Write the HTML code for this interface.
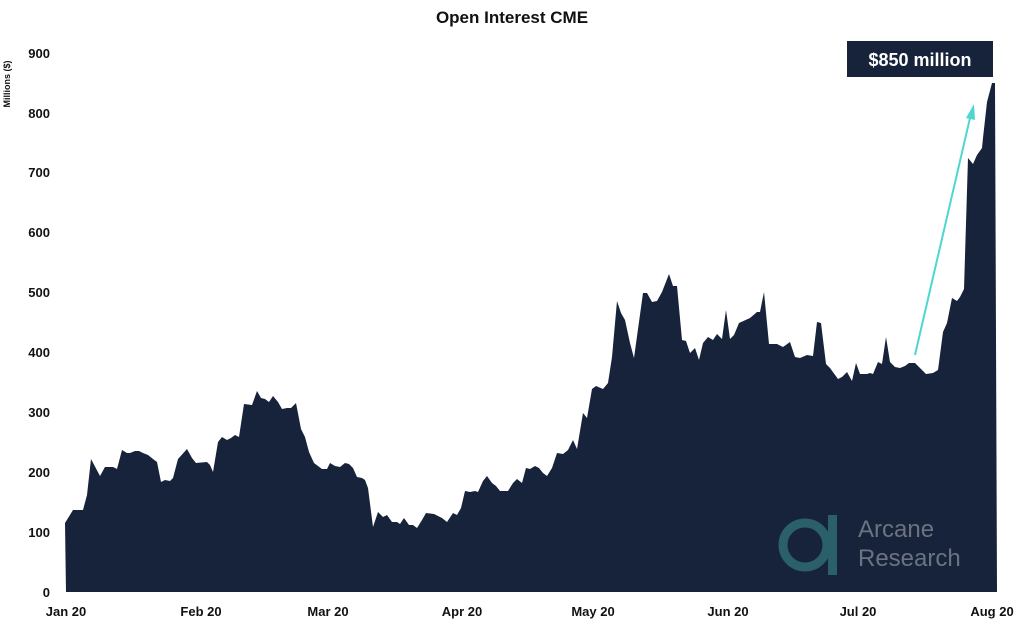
<!DOCTYPE html>
<html><head><meta charset="utf-8"><style>
body{margin:0;background:#fff;}
svg{display:block;font-family:"Liberation Sans",sans-serif;}
</style></head><body>
<svg width="1024" height="627" viewBox="0 0 1024 627">
<text x="512" y="23" text-anchor="middle" font-size="17" font-weight="bold" fill="#111">Open Interest CME</text>
<text transform="translate(10,84) rotate(-90)" text-anchor="middle" font-size="9" font-weight="bold" fill="#111">Millions ($)</text>
<g font-size="13" font-weight="bold" fill="#111" text-anchor="end">
<text x="50" y="597">0</text><text x="50" y="537">100</text><text x="50" y="477">200</text>
<text x="50" y="417">300</text><text x="50" y="357">400</text><text x="50" y="297">500</text>
<text x="50" y="237">600</text><text x="50" y="177">700</text><text x="50" y="118">800</text>
<text x="50" y="58">900</text>
</g>
<g font-size="13" font-weight="bold" fill="#111" text-anchor="middle">
<text x="66" y="616">Jan 20</text><text x="201" y="616">Feb 20</text><text x="328" y="616">Mar 20</text>
<text x="462" y="616">Apr 20</text><text x="593" y="616">May 20</text><text x="728" y="616">Jun 20</text>
<text x="858" y="616">Jul 20</text><text x="992" y="616">Aug 20</text>
</g>
<polygon fill="#16233a" points="66,592 65,523 73,510 83,510 87,495 91,459 100,476 105,467 113,467 117,469 122,450 127,453 130,453 135,451 139,451 143,453 148,455 153,459 157,462 161,482 165,480 170,481 173,478 178,459 187,449 192,458 196,463 207,462 210,465 213,472 218,442 222,437 227,440 231,438 235,435 239,437 244,404 252,405 257,391 261,398 265,399 269,402 273,396 278,402 282,409 287,408 291,408 296,403 301,429 305,437 309,452 314,463 322,469 327,469 330,463 335,466 340,467 345,463 349,464 353,468 357,477 362,478 365,480 368,488 373,527 378,512 383,517 387,515 392,522 397,522 400,524 404,518 409,525 413,525 417,528 422,520 426,513 434,514 442,518 447,522 453,513 457,515 461,508 465,491 470,492 475,491 478,492 483,481 487,476 492,483 496,486 500,491 508,491 513,483 517,479 522,483 526,468 530,469 535,466 539,468 543,473 547,476 552,468 557,453 563,454 568,450 573,440 577,449 583,413 587,418 592,389 596,386 603,389 608,383 612,357 617,301 621,313 625,320 630,343 634,358 643,293 647,293 652,302 657,301 662,292 669,274 673,286 677,286 682,340 686,341 690,353 695,348 699,360 703,343 708,337 713,340 717,334 722,339 726,310 730,339 734,335 739,323 750,318 757,312 760,312 764,292 769,344 777,344 783,347 790,342 795,357 800,358 807,355 813,356 817,322 821,323 826,364 830,368 838,379 842,377 847,372 852,381 856,363 860,374 867,374 870,373 873,374 878,362 882,364 886,337 890,362 895,367 900,368 905,366 909,363 915,363 920,368 926,374 933,373 938,370 943,332 947,323 952,298 957,301 960,297 964,289 968,158 973,164 977,155 982,148 983,138 987,102 992,83 995,83 997,592"/>
<rect x="847" y="41" width="146" height="36" fill="#16233a"/>
<text x="920" y="66" text-anchor="middle" font-size="18" font-weight="bold" fill="#fff">$850 million</text>
<line x1="915" y1="355" x2="970" y2="118" stroke="#4fd6d0" stroke-width="2"/>
<polygon points="974,104 966,118 975,120" fill="#4fd6d0"/>
<circle cx="805" cy="545" r="22" fill="none" stroke="#2b5f6a" stroke-width="9"/>
<rect x="828" y="515" width="9" height="60" fill="#2b5f6a"/>
<text x="858" y="537" font-size="24" fill="#6b7380">Arcane</text>
<text x="858" y="566" font-size="24" fill="#6b7380">Research</text>
</svg>
</body></html>
